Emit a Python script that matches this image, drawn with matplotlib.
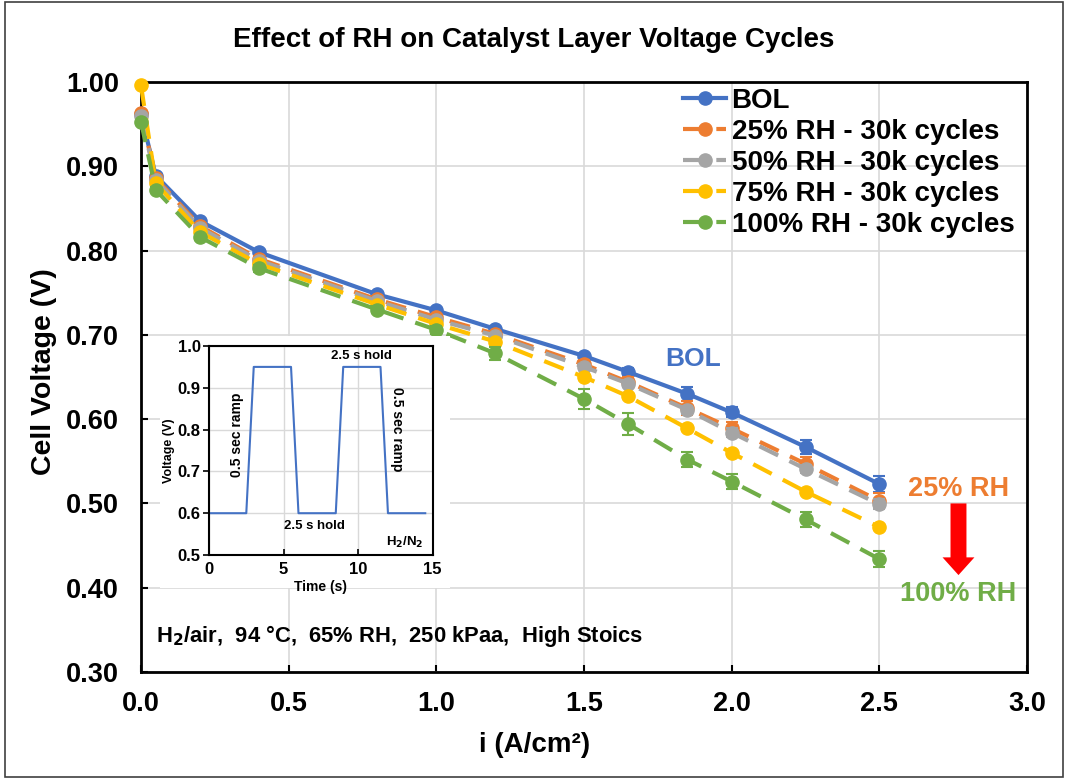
import matplotlib
matplotlib.use("Agg")
import matplotlib.pyplot as plt
from matplotlib.patches import Rectangle, FancyArrow
from matplotlib.ticker import FormatStrFormatter

plt.rcParams['font.family'] = ['Liberation Sans', 'DejaVu Sans']
plt.rcParams['font.weight'] = 'bold'

# Polarization data: current density (A/cm2) vs cell voltage (V)
current = [0.0, 0.05, 0.2, 0.4, 0.8, 1.0, 1.2, 1.5, 1.65, 1.85, 2.0, 2.25, 2.5]
v_bol = [0.962, 0.889, 0.835, 0.798, 0.748, 0.729, 0.707, 0.675, 0.656, 0.630, 0.608, 0.567, 0.523]
v_rh25 = [0.963, 0.886, 0.829, 0.790, 0.742, 0.721, 0.701, 0.665, 0.644, 0.613, 0.589, 0.547, 0.503]
v_rh50 = [0.960, 0.884, 0.827, 0.788, 0.740, 0.718, 0.699, 0.662, 0.642, 0.611, 0.584, 0.541, 0.499]
v_rh75 = [0.996, 0.880, 0.822, 0.784, 0.736, 0.713, 0.692, 0.650, 0.627, 0.589, 0.560, 0.514, 0.472]
v_rh100 = [0.953, 0.872, 0.816, 0.779, 0.730, 0.706, 0.678, 0.624, 0.594, 0.552, 0.526, 0.481, 0.434]

# Standard deviations
e_bol = [0.003, 0.003, 0.003, 0.003, 0.003, 0.003, 0.004, 0.004, 0.005, 0.008, 0.006, 0.008, 0.009]
e_rh25 = [0.003, 0.003, 0.003, 0.003, 0.003, 0.003, 0.004, 0.005, 0.006, 0.008, 0.008, 0.008, 0.009]
e_rh50 = [0.002, 0.002, 0.003, 0.003, 0.003, 0.003, 0.003, 0.004, 0.004, 0.005, 0.005, 0.005, 0.006]
e_rh75 = [0.002, 0.002, 0.002, 0.002, 0.002, 0.003, 0.003, 0.003, 0.003, 0.003, 0.003, 0.003, 0.003]
e_rh100 = [0.003, 0.003, 0.003, 0.004, 0.004, 0.005, 0.008, 0.012, 0.013, 0.009, 0.009, 0.009, 0.010]

labels = ["BOL", "25% RH - 30k cycles", "50% RH - 30k cycles",
          "75% RH - 30k cycles", "100% RH - 30k cycles"]
colors = ["#4472C4", "#ED7D31", "#A5A5A5", "#FFC000", "#70AD47"]

# Voltage cycle waveform for the inset
cycle_t = [0, 2.5, 3.0, 5.5, 6.0, 8.5, 9.0, 11.5, 12.0, 14.5]
cycle_v = [0.6, 0.6, 0.95, 0.95, 0.6, 0.6, 0.95, 0.95, 0.6, 0.6]

W, H = 1067, 779
fig = plt.figure(figsize=(W / 100, H / 100), dpi=100)

def fx(px):
    return px / W

def fy(py):
    return 1 - py / H

ax = fig.add_axes([fx(141), fy(672), fx(1027) - fx(141), fy(82) - fy(672)])
ax.set_zorder(0)

series = [v_bol, v_rh25, v_rh50, v_rh75, v_rh100]
errors = [e_bol, e_rh25, e_rh50, e_rh75, e_rh100]
for i, (v, e, lab, c) in enumerate(zip(series, errors, labels, colors)):
    ax.errorbar(current, v, yerr=e, fmt='none', ecolor=c, elinewidth=1.5,
                capsize=4, capthick=1.5, zorder=2 + i)
    ls = '-' if i == 0 else (0, (5, 3))
    ax.plot(current, v, color=c, lw=3, ls=ls, marker='o', markersize=9.5,
            label=lab, zorder=2.5 + i, clip_on=False)

ax.set_xlim(0, 3.0)
ax.set_ylim(0.30, 1.00)
ax.set_xticks([0.0, 0.5, 1.0, 1.5, 2.0, 2.5, 3.0])
ax.set_yticks([0.30, 0.40, 0.50, 0.60, 0.70, 0.80, 0.90, 1.00])
ax.xaxis.set_major_formatter(FormatStrFormatter('%.1f'))
ax.yaxis.set_major_formatter(FormatStrFormatter('%.2f'))
ax.grid(True, color='#D9D9D9', lw=1.2)
ax.set_axisbelow(True)
for s in ax.spines.values():
    s.set_linewidth(2)
    s.set_color('black')
ax.tick_params(axis='both', direction='in', length=5, width=1.5, labelsize=19.5)
ax.tick_params(axis='x', pad=14)
ax.tick_params(axis='y', pad=16)
for t in ax.get_xticklabels() + ax.get_yticklabels():
    t.set_fontweight('bold')

leg = ax.legend(loc='upper left', bbox_to_anchor=((683 - 141) / 886, (672 - 88) / 590),
                frameon=False, fontsize=20, handlelength=1.55, handletextpad=0.2,
                labelspacing=0.18, borderpad=0, borderaxespad=0)
for t in leg.get_texts():
    t.set_fontweight('bold')

# Annotations
ax.text(1.87, 0.671, "BOL", color="#4472C4", fontsize=19, fontweight='bold',
        ha='center', va='center')
ax.text(2.768, 0.517, "25% RH", color="#ED7D31", fontsize=19.5, fontweight='bold',
        ha='center', va='center')
ax.text(2.768, 0.392, "100% RH", color="#70AD47", fontsize=19.5, fontweight='bold',
        ha='center', va='center')
ax.add_patch(FancyArrow(2.768, 0.500, 0, -0.085, width=0.054, head_width=0.108,
                        head_length=0.021, length_includes_head=True,
                        color='#FF0000', lw=0, zorder=10))
ax.text(0.05, 0.343, "H$_2$/air,  94 °C,  65% RH,  250 kPaa,  High Stoics",
        fontsize=15.8, fontweight='bold', ha='left', va='center', color='black')

# Titles and axis labels
fig.text(fx(534), fy(40), "Effect of RH on Catalyst Layer Voltage Cycles",
         fontsize=20, fontweight='bold', ha='center', va='center')
fig.text(fx(535), fy(745), "i (A/cm²)", fontsize=20, fontweight='bold',
         ha='center', va='center')
fig.text(fx(44), fy(372), "Cell Voltage (V)", fontsize=20.5, fontweight='bold',
         ha='center', va='center', rotation=90)

# White panel behind the inset
fig.patches.append(Rectangle((fx(160), fy(588)), fx(450) - fx(160), fy(336) - fy(588),
                             transform=fig.transFigure, facecolor='white',
                             edgecolor='none', zorder=0.5))

# Inset: voltage cycling profile
axi = fig.add_axes([fx(209), fy(555), fx(432.7) - fx(209), fy(346) - fy(555)])
axi.set_zorder(1)
axi.plot(cycle_t, cycle_v, color='#4472C4', lw=1.5)
axi.set_xlim(0, 15)
axi.set_ylim(0.5, 1.0)
axi.set_xticks([0, 5, 10, 15])
axi.set_yticks([0.5, 0.6, 0.7, 0.8, 0.9, 1.0])
axi.yaxis.set_major_formatter(FormatStrFormatter('%.1f'))
axi.grid(True, color='#D9D9D9', lw=1)
axi.set_axisbelow(True)
for s in axi.spines.values():
    s.set_linewidth(1.5)
    s.set_color('black')
axi.tick_params(axis='x', direction='in', length=4, width=1.2, labelsize=12, pad=5)
axi.tick_params(axis='y', direction='out', length=4, width=1.2, labelsize=12, pad=2)
for t in axi.get_xticklabels() + axi.get_yticklabels():
    t.set_fontweight('bold')
axi.set_xlabel("Time (s)", fontsize=10, fontweight='bold', labelpad=2)
axi.set_ylabel("Voltage (V)", fontsize=9, fontweight='bold', labelpad=2)
axi.text(1.9, 0.787, "0.5 sec ramp", rotation=90, fontsize=10, fontweight='bold',
         ha='center', va='center')
axi.text(12.6, 0.80, "0.5 sec ramp", rotation=270, fontsize=10, fontweight='bold',
         ha='center', va='center')
axi.text(10.23, 0.976, "2.5 s hold", fontsize=9.5, fontweight='bold',
         ha='center', va='center')
axi.text(7.05, 0.569, "2.5 s hold", fontsize=9.5, fontweight='bold',
         ha='center', va='center')
axi.text(14.4, 0.529, "H$_\\mathbf{2}$/N$_\\mathbf{2}$", fontsize=9.5, fontweight='bold',
         ha='right', va='center')

# Chart border
fig.patches.append(Rectangle((fx(5), fy(777)), fx(1063) - fx(5), fy(2) - fy(777),
                             transform=fig.transFigure, fill=False,
                             edgecolor='#404040', lw=1.2, zorder=5))

fig.savefig("out.png", dpi=100)
